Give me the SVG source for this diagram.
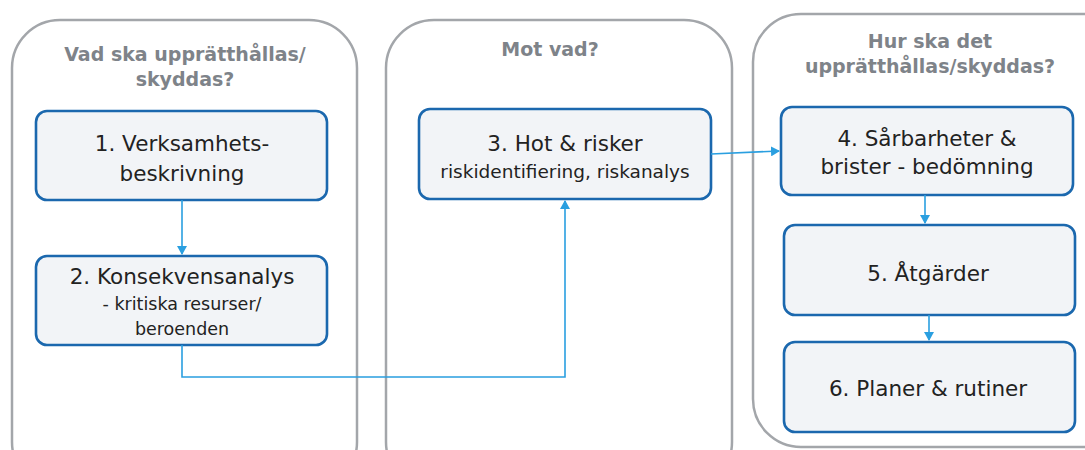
<svg xmlns="http://www.w3.org/2000/svg" width="1085" height="450" viewBox="0 0 1085 450">
<style>
.panel{fill:#ffffff;stroke:#a3a6aa;stroke-width:2.5}
.box{fill:#f2f4f7;stroke:#1b68ae;stroke-width:2.6}
.title{font-family:"DejaVu Sans",Verdana,sans-serif;font-weight:bold;font-size:19px;fill:#7e8389;text-anchor:middle}
.t1{font-family:"DejaVu Sans",Verdana,sans-serif;font-size:21.5px;fill:#222;text-anchor:middle}
.t2{font-family:"DejaVu Sans",Verdana,sans-serif;font-size:17.5px;fill:#222;text-anchor:middle}
.t3{font-family:"DejaVu Sans",Verdana,sans-serif;font-size:18.5px;fill:#222;text-anchor:middle}
.conn{fill:none;stroke:#2a9fe0;stroke-width:1.6}
</style>
<defs>
<marker id="arr" markerWidth="10" markerHeight="10" refX="8" refY="5" orient="auto" markerUnits="userSpaceOnUse">
<path d="M0,0 L9,5 L0,10 Z" fill="#2a9fe0"/>
</marker>
</defs>
<rect width="1085" height="450" fill="#ffffff"/>
<g id="panel1">
<rect class="panel" x="12" y="20" width="345" height="470" rx="48"/>
<text class="title" x="185" y="61">Vad ska upprätthållas/</text>
<text class="title" x="185" y="86">skyddas?</text>
</g>
<g id="panel2">
<rect class="panel" x="386" y="20" width="346" height="470" rx="48"/>
<text class="title" x="550" y="56">Mot vad?</text>
</g>
<g id="panel3">
<rect class="panel" x="753" y="14" width="380" height="433" rx="48"/>
<text class="title" x="930" y="48">Hur ska det</text>
<text class="title" x="930" y="73">upprätthållas/skyddas?</text>
</g>
<g id="node1">
<rect class="box" x="36" y="111" width="291" height="89" rx="11"/>
<text class="t1" x="182" y="151">1. Verksamhets-</text>
<text class="t1" x="182" y="181">beskrivning</text>
</g>
<g id="node2">
<rect class="box" x="36" y="256" width="291" height="89" rx="11"/>
<text class="t1" x="182" y="284">2. Konsekvensanalys</text>
<text class="t2" x="182" y="310">- kritiska resurser/</text>
<text class="t2" x="182" y="335">beroenden</text>
</g>
<g id="node3">
<rect class="box" x="419" y="109" width="292" height="90" rx="11"/>
<text class="t1" x="565" y="151">3. Hot &amp; risker</text>
<text class="t3" x="565" y="178">riskidentifiering, riskanalys</text>
</g>
<g id="node4">
<rect class="box" x="781" y="107" width="292" height="88" rx="11"/>
<text class="t1" x="927" y="146">4. Sårbarheter &amp;</text>
<text class="t1" x="927" y="174">brister - bedömning</text>
</g>
<g id="node5">
<rect class="box" x="784" y="225" width="291" height="90" rx="11"/>
<text class="t1" x="928" y="281">5. Åtgärder</text>
</g>
<g id="node6">
<rect class="box" x="784" y="342" width="291" height="90" rx="11"/>
<text class="t1" x="928" y="396">6. Planer &amp; rutiner</text>
</g>
<g id="connectors">
<path class="conn" d="M182,200 L182,254" marker-end="url(#arr)"/>
<path class="conn" d="M182,345 L182,377 L565,377 L565,201" marker-end="url(#arr)"/>
<path class="conn" d="M711,154 L779,151" marker-end="url(#arr)"/>
<path class="conn" d="M925,195 L925,223" marker-end="url(#arr)"/>
<path class="conn" d="M929,315 L929,340" marker-end="url(#arr)"/>
</g>
</svg>
